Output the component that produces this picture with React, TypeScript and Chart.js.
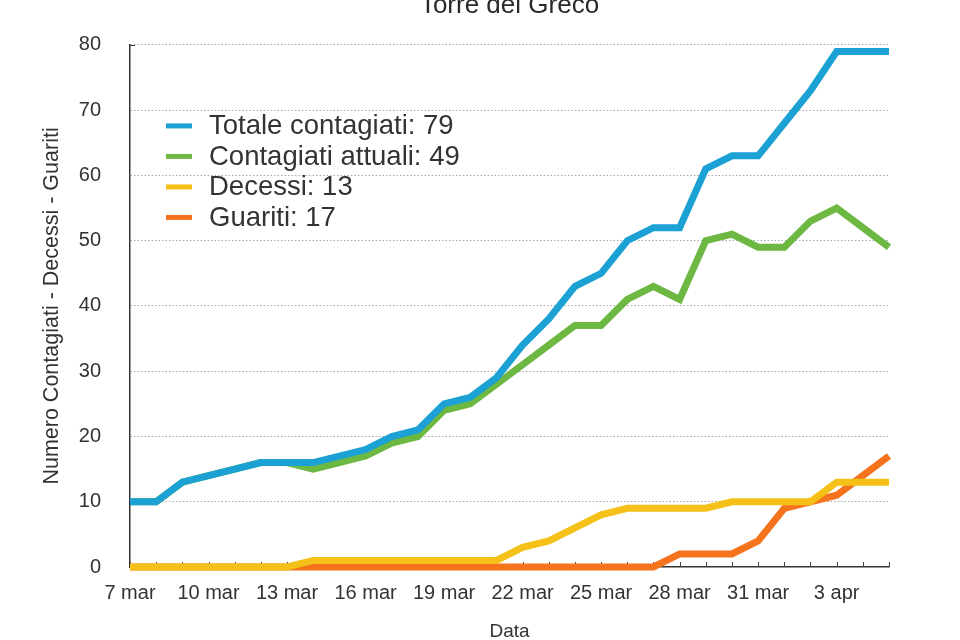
import React, { useEffect, useRef } from "react";
import { Chart, registerables } from "chart.js";

Chart.register(...registerables);

const dateLabels = [
  "7 mar", "8 mar", "9 mar", "10 mar", "11 mar", "12 mar", "13 mar", "14 mar", "15 mar", "16 mar",
  "17 mar", "18 mar", "19 mar", "20 mar", "21 mar", "22 mar", "23 mar", "24 mar", "25 mar", "26 mar",
  "27 mar", "28 mar", "29 mar", "30 mar", "31 mar", "1 apr", "2 apr", "3 apr", "4 apr", "5 apr",
];

const totaleContagiati = [10, 10, 13, 14, 15, 16, 16, 16, 17, 18, 20, 21, 25, 26, 29, 34, 38, 43, 45, 50, 52, 52, 61, 63, 63, 68, 73, 79, 79, 79];
const contagiatiAttuali = [10, 10, 13, 14, 15, 16, 16, 15, 16, 17, 19, 20, 24, 25, 28, 31, 34, 37, 37, 41, 43, 41, 50, 51, 49, 49, 53, 55, 52, 49];
const decessi = [0, 0, 0, 0, 0, 0, 0, 1, 1, 1, 1, 1, 1, 1, 1, 3, 4, 6, 8, 9, 9, 9, 9, 10, 10, 10, 10, 13, 13, 13];
const guariti = [0, 0, 0, 0, 0, 0, 0, 0, 0, 0, 0, 0, 0, 0, 0, 0, 0, 0, 0, 0, 0, 2, 2, 2, 4, 9, 10, 11, 14, 17];

const seriesNames = ["Totale contagiati", "Contagiati attuali", "Decessi", "Guariti"];
const seriesColors = ["#1ba1d3", "#6cb843", "#f5c118", "#f4731c"];

const yTicks = [0, 10, 20, 30, 40, 50, 60, 70, 80];

const titleText = "Torre del Greco";
const yAxisTitle = "Numero Contagiati - Decessi - Guariti";
const xAxisTitle = "Data";

const FONT = "'Liberation Sans', Arial, Helvetica, sans-serif";
const TEXT = "#333333";

const titleOverAreaPlugin = {
  id: "titleOverArea",
  afterLayout(chart: any) {
    const tb = chart.titleBlock;
    if (tb) {
      tb.left = chart.chartArea.left;
      tb.right = chart.chartArea.right;
    }
  },
};

const innerTicksPlugin = {
  id: "innerTicks",
  beforeDatasetsDraw(chart: any) {
    const { ctx, chartArea } = chart;
    const x = chart.scales.x;
    ctx.save();
    ctx.strokeStyle = "#444";
    ctx.lineWidth = 1;
    for (let i = 0; i < dateLabels.length; i++) {
      const px = Math.round(x.getPixelForValue(i)) + 0.5;
      ctx.beginPath();
      ctx.moveTo(px, chartArea.bottom);
      ctx.lineTo(px, chartArea.bottom - 5);
      ctx.stroke();
    }
    const y = chart.scales.y;
    const topY = Math.round(y.getPixelForValue(yTicks[yTicks.length - 1])) + 0.5;
    ctx.beginPath();
    ctx.moveTo(chartArea.left, topY);
    ctx.lineTo(chartArea.left + 5, topY);
    ctx.stroke();
    ctx.restore();
  },
};

const innerLegendPlugin = {
  id: "innerLegend",
  afterDraw(chart: any) {
    const { ctx, chartArea } = chart;
    const left = chartArea.left + 36;
    const top = chartArea.top + 81;
    const rowH = 30.5;
    ctx.save();
    ctx.font = `27.5px ${FONT}`;
    ctx.textBaseline = "middle";
    ctx.textAlign = "left";
    chart.data.datasets.forEach((ds: any, i: number) => {
      const y = top + i * rowH;
      ctx.strokeStyle = ds.borderColor;
      ctx.lineWidth = 5;
      ctx.beginPath();
      ctx.moveTo(left, y);
      ctx.lineTo(left + 26, y);
      ctx.stroke();
      ctx.fillStyle = TEXT;
      const vals = ds.data;
      ctx.fillText(`${ds.label}: ${vals[vals.length - 1]}`, left + 43, y + 1);
    });
    ctx.restore();
  },
};

export default function App() {
  const ref = useRef<HTMLCanvasElement | null>(null);

  useEffect(() => {
    if (!ref.current) return;
    const allSeries = [totaleContagiati, contagiatiAttuali, decessi, guariti];
    const chart = new Chart(ref.current, {
      type: "line",
      data: {
        labels: dateLabels,
        datasets: allSeries.map((d, i) => ({
          label: seriesNames[i],
          data: d,
          borderColor: seriesColors[i],
          backgroundColor: seriesColors[i],
          borderWidth: 7,
          pointRadius: 0,
          pointHoverRadius: 0,
          tension: 0,
          fill: false,
          clip: false,
          borderJoinStyle: "miter" as const,
          borderCapStyle: "butt" as const,
        })),
      },
      options: {
        responsive: false,
        animation: false,
        events: [],
        layout: { padding: { left: 0, right: 71, top: 0, bottom: 0 } },
        plugins: {
          legend: { display: false },
          tooltip: { enabled: false },
          title: {
            display: true,
            text: titleText,
            color: "#2a2a2a",
            font: { family: FONT, size: 26, weight: "normal", lineHeight: 0.42 },
            padding: { top: 0, bottom: 34 },
          },
        },
        scales: {
          x: {
            type: "category",
            offset: false,
            afterFit(scale: any) {
              scale.height = 73;
            },
            grid: { display: true, drawOnChartArea: false, drawTicks: false },
            border: { display: true, color: "#333", width: 1.5 },
            ticks: {
              autoSkip: false,
              maxRotation: 0,
              minRotation: 0,
              padding: 14,
              color: TEXT,
              font: { family: FONT, size: 20 },
              callback: (_v: any, idx: number) => (idx % 3 === 0 ? dateLabels[idx] : ""),
            },
            title: {
              display: true,
              text: xAxisTitle,
              color: TEXT,
              font: { family: FONT, size: 19, lineHeight: 0.8 },
              padding: { top: 0, bottom: 1 },
            },
          },
          y: {
            min: yTicks[0],
            max: yTicks[yTicks.length - 1],
            afterFit(scale: any) {
              scale.width = 130;
            },
            afterBuildTicks(scale: any) {
              scale.ticks = yTicks.map((v) => ({ value: v }));
            },
            grid: {
              drawTicks: false,
              color: (c: any) => (c.tick && c.tick.value === 0 ? "rgba(0,0,0,0)" : "#a8a8a8"),
              lineWidth: 1,
            },
            border: { display: true, color: "#333", width: 1.5, dash: [1.5, 2] },
            ticks: {
              padding: 29,
              color: TEXT,
              font: { family: FONT, size: 20 },
            },
            title: {
              display: true,
              text: yAxisTitle,
              color: TEXT,
              font: { family: FONT, size: 21.5, lineHeight: 1.2 },
              padding: { top: 39, bottom: 0 },
            },
          },
        },
      },
      plugins: [titleOverAreaPlugin, innerTicksPlugin, innerLegendPlugin],
    } as any);
    return () => chart.destroy();
  }, []);

  return (
    <div style={{ position: "absolute", left: 0, top: 0, width: 960, height: 640, background: "#fff" }}>
      <canvas ref={ref} width={960} height={640} style={{ width: 960, height: 640, display: "block" }} />
    </div>
  );
}
